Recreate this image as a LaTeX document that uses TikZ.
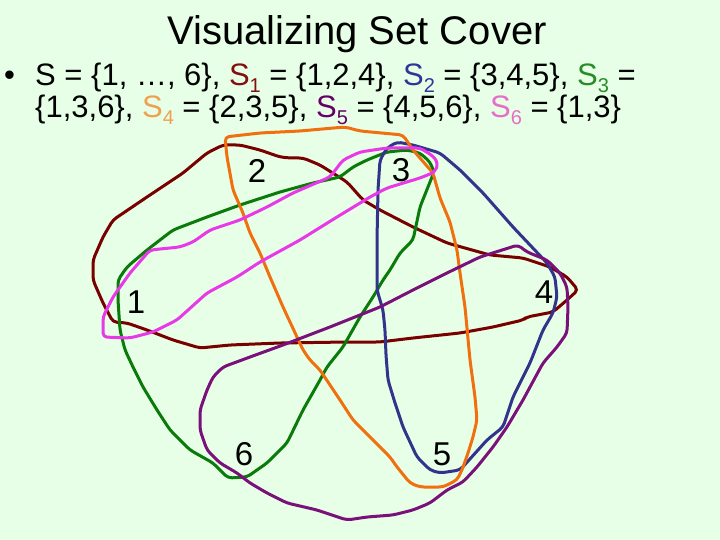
\documentclass[tikz,border=0pt]{standalone}
\usepackage{fontspec}
\setmainfont{Liberation Sans}
\definecolor{bg}{RGB}{230,255,230}
\definecolor{c1}{RGB}{120,0,0}
\definecolor{c2}{RGB}{51,51,140}
\definecolor{c3}{RGB}{10,122,10}
\definecolor{c4}{RGB}{240,112,16}
\definecolor{c5}{RGB}{122,16,122}
\definecolor{c6}{RGB}{232,56,232}
\definecolor{t1}{RGB}{130,16,16}
\definecolor{t2}{RGB}{51,51,153}
\definecolor{t3}{RGB}{40,140,40}
\definecolor{t4}{RGB}{240,160,80}
\definecolor{t5}{RGB}{102,0,102}
\definecolor{t6}{RGB}{230,110,200}
\newcommand{\ssub}[1]{\raisebox{-7pt}[0pt][0pt]{\fontsize{20}{20}\selectfont #1}}
\begin{document}
\begin{tikzpicture}[x=1pt,y=-1pt,
  setline/.style={line width=3pt, line join=round, line cap=round, rounded corners=4pt},
  body/.style={inner sep=0pt, anchor=base west, font=\fontsize{31}{31}\selectfont},
  num/.style={inner sep=0pt, anchor=base, font=\fontsize{33}{33}\selectfont}]
\fill[bg] (0,0) rectangle (720,540);
\useasboundingbox (0,0) rectangle (720,540);

% title and text
\node[inner sep=0pt, anchor=base, font=\fontsize{40}{40}\selectfont] (title) at (357,45) {Visualizing Set Cover};
\node[body] (bullet) at (4,86) {•};
\node[body] (line1) at (35,86) {S = \{1, …, 6\}, \textcolor{t1}{S\ssub{1}} = \{1,2,4\}, \textcolor{t2}{S\ssub{2}} = \{3,4,5\}, \textcolor{t3}{S\ssub{3}} =};
\node[body] (line2) at (35,118) {\{1,3,6\}, \textcolor{t4}{S\ssub{4}} = \{2,3,5\}, \textcolor{t5}{S\ssub{5}} = \{4,5,6\}, \textcolor{t6}{S\ssub{6}} = \{1,3\}};

% S1
\draw[setline, c1] (223,145)--(240,145)--(260,150)--(280,157)--(290,158)--(303,158)--(320,165)--(347,182)--(363,200)--(380,210)--(413,227)--(447,243)--(490,255)--(523,258)--(550,267)--(567,277)--(578,290)--(567,300)--(553,312)--(527,317)--(523,320)--(493,327)--(460,333)--(413,338)--(380,342)--(347,342)--(280,343)--(230,345)--(200,348)--(173,340)--(147,330)--(127,323)--(113,322)--(103,303)--(93,280)--(93,260)--(103,237)--(113,220)--(147,197)--(183,173)--(207,153)--cycle;
% S3
\draw[setline, c3] (118,280)--(127,267)--(147,250)--(173,230)--(207,217)--(240,205)--(280,192)--(313,183)--(340,177)--(353,167)--(367,160)--(387,152)--(407,150)--(420,153)--(430,162)--(434,172)--(430,182)--(420,207)--(413,240)--(400,253)--(390,270)--(383,280)--(373,297)--(360,317)--(343,347)--(327,367)--(320,380)--(303,410)--(287,443)--(267,463)--(247,477)--(228,478)--(213,463)--(190,450)--(170,430)--(157,410)--(143,387)--(133,367)--(125,350)--(120,330)--(118,300)--cycle;
% S2
\draw[setline, c2] (385,330)--(383,310)--(377,290)--(377,240)--(378,190)--(380,160)--(387,148)--(397,142)--(413,145)--(440,153)--(460,170)--(483,193)--(513,227)--(547,263)--(555,277)--(557,297)--(553,313)--(543,330)--(530,363)--(513,397)--(503,427)--(487,440)--(460,470)--(440,473)--(430,470)--(417,457)--(403,427)--(395,403)--(388,380)--(386,355)--cycle;
% S4
\draw[setline, c4] (225,137)--(260,133)--(300,131)--(345,127)--(360,131)--(403,135)--(413,150)--(433,173)--(440,198)--(450,222)--(457,250)--(460,273)--(465,307)--(470,360)--(475,397)--(477,420)--(473,437)--(468,453)--(462,470)--(457,480)--(443,487)--(420,487)--(410,483)--(397,467)--(390,457)--(373,440)--(353,420)--(340,400)--(330,385)--(320,370)--(310,360)--(303,350)--(297,337)--(283,307)--(270,277)--(260,253)--(250,233)--(243,213)--(233,190)--(227,157)--cycle;
% S5
\draw[setline, c5] (518,245)--(527,252)--(547,260)--(560,273)--(567,287)--(568,307)--(567,333)--(557,347)--(543,363)--(523,400)--(507,427)--(493,447)--(477,467)--(463,482)--(447,490)--(430,503)--(413,510)--(393,515)--(367,517)--(347,520)--(317,510)--(287,503)--(267,493)--(250,483)--(237,473)--(220,463)--(207,450)--(200,430)--(200,410)--(207,390)--(213,377)--(223,367)--(250,357)--(283,345)--(330,327)--(380,307)--(413,290)--(447,273)--(480,257)--cycle;
% S6
\draw[setline, c6] (150,250)--(180,247)--(193,242)--(210,230)--(240,220)--(267,207)--(293,193)--(330,177)--(343,160)--(360,152)--(387,148)--(420,148)--(433,156)--(438,163)--(435,172)--(420,178)--(387,188)--(370,197)--(337,217)--(300,240)--(260,262)--(237,277)--(207,293)--(177,320)--(153,332)--(130,338)--(103,337)--(103,317)--(113,297)--(130,273)--cycle;

% element labels
\node[num] (e1) at (136,313) {1};
\node[num] (e2) at (257,183) {2};
\node[num] (e3) at (401,182) {3};
\node[num] (e4) at (544,303) {4};
\node[num] (e5) at (442,465) {5};
\node[num] (e6) at (244,465) {6};
\end{tikzpicture}
\end{document}
